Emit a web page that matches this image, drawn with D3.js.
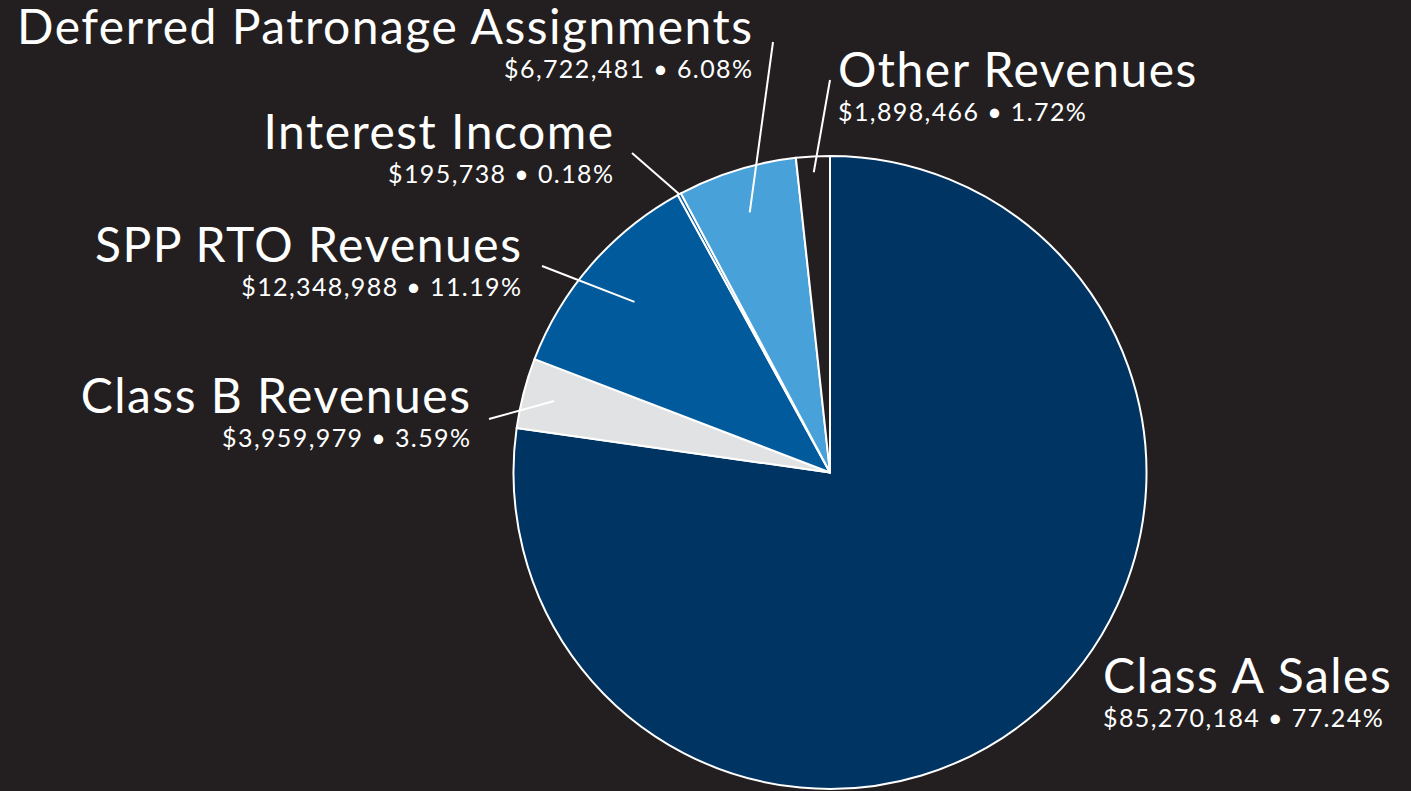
<!DOCTYPE html>
<html>
<head>
<meta charset="utf-8">
<script src="https://cdn.jsdelivr.net/npm/d3@7"></script>
<style>
	html, body { margin: 0; padding: 0; background: #231f20; }
	svg { display: block; }
	.name { font-family: Lato, "Open Sans", sans-serif; font-size: 48px; letter-spacing: 1.5px; fill: #fff; }
	.value { font-family: Lato, "Open Sans", sans-serif; font-size: 25px; letter-spacing: 1.4px; fill: #fff; }
</style>
</head>
<body>
<svg id="chart"></svg>
<script>
var width = 1411, height = 791;

// revenue sources, clockwise from 12 o'clock
var categories = ['Class A Sales', 'Class B Revenues', 'SPP RTO Revenues', 'Interest Income', 'Deferred Patronage Assignments', 'Other Revenues'];
var amounts = [85270184, 3959979, 12348988, 195738, 6722481, 1898466];
var percents = ['77.24%', '3.59%', '11.19%', '0.18%', '6.08%', '1.72%'];
var colors = ['#003462', '#e1e2e3', '#005a9c', '#005a9c', '#48a1d8', '#231f20'];

// where each label sits: anchor, text x/y, leader line outer end, leader inner radius (fraction of r)
var labelLayout = [
	{anchor: 'start', x: 1103, y: 693, line: null},
	{anchor: 'end', x: 470, y: 413, line: [489, 419], inner: 0.9},
	{anchor: 'end', x: 521, y: 262, line: [542, 266], inner: 0.82},
	{anchor: 'end', x: 613, y: 149, line: [632, 153], inner: 1.0},
	{anchor: 'end', x: 752, y: 44, line: [773, 42], inner: 0.86},
	{anchor: 'start', x: 838, y: 87, line: [830, 80], inner: 0.95}
];

var cx = 830, cy = 472.5, r = 316.5;

var svg = d3.select('#chart').attr('width', width).attr('height', height);
svg.append('rect').attr('width', width).attr('height', height).attr('fill', '#231f20');

var data = categories.map(function(c, i){
	return {name: c, amount: amounts[i], pct: percents[i], color: colors[i], layout: labelLayout[i]};
});

var pie = d3.pie().sort(null).value(function(d){ return d.amount; });
var arc = d3.arc().innerRadius(0).outerRadius(r);
var arcs = pie(data);

var g = svg.append('g').attr('transform', 'translate(' + cx + ',' + cy + ')');

g.selectAll('path.slice').data(arcs).enter().append('path')
	.attr('class', 'slice')
	.attr('d', arc)
	.attr('fill', function(d){ return d.data.color; })
	.attr('stroke', '#fff')
	.attr('stroke-width', 2)
	.attr('stroke-linejoin', 'round');

// leader lines
arcs.forEach(function(a){
	var lay = a.data.layout;
	if(!lay.line) return;
	var mid = (a.startAngle + a.endAngle) / 2;
	var ir = r * lay.inner;
	svg.append('line')
		.attr('x1', lay.line[0]).attr('y1', lay.line[1])
		.attr('x2', cx + ir * Math.sin(mid)).attr('y2', cy - ir * Math.cos(mid))
		.attr('stroke', '#fff').attr('stroke-width', 2);
});

var fmt = d3.format('$,');
var labels = svg.selectAll('g.label').data(data).enter().append('g').attr('class', 'label');
// letter-spacing adds trailing space on end-anchored text, so nudge those right
labels.append('text').attr('class', 'name')
	.attr('x', function(d){ return d.layout.anchor == 'end' ? d.layout.x + 1.5 : d.layout.x; })
	.attr('y', function(d){ return d.layout.y; })
	.attr('text-anchor', function(d){ return d.layout.anchor; })
	.text(function(d){ return d.name; });
labels.append('text').attr('class', 'value')
	.attr('x', function(d){ return d.layout.anchor == 'end' ? d.layout.x + 1.4 : d.layout.x; })
	.attr('y', function(d){ return d.layout.y + 34; })
	.attr('text-anchor', function(d){ return d.layout.anchor; })
	.text(function(d){ return fmt(d.amount) + ' \u2022 ' + d.pct; });
</script>
</body>
</html>
